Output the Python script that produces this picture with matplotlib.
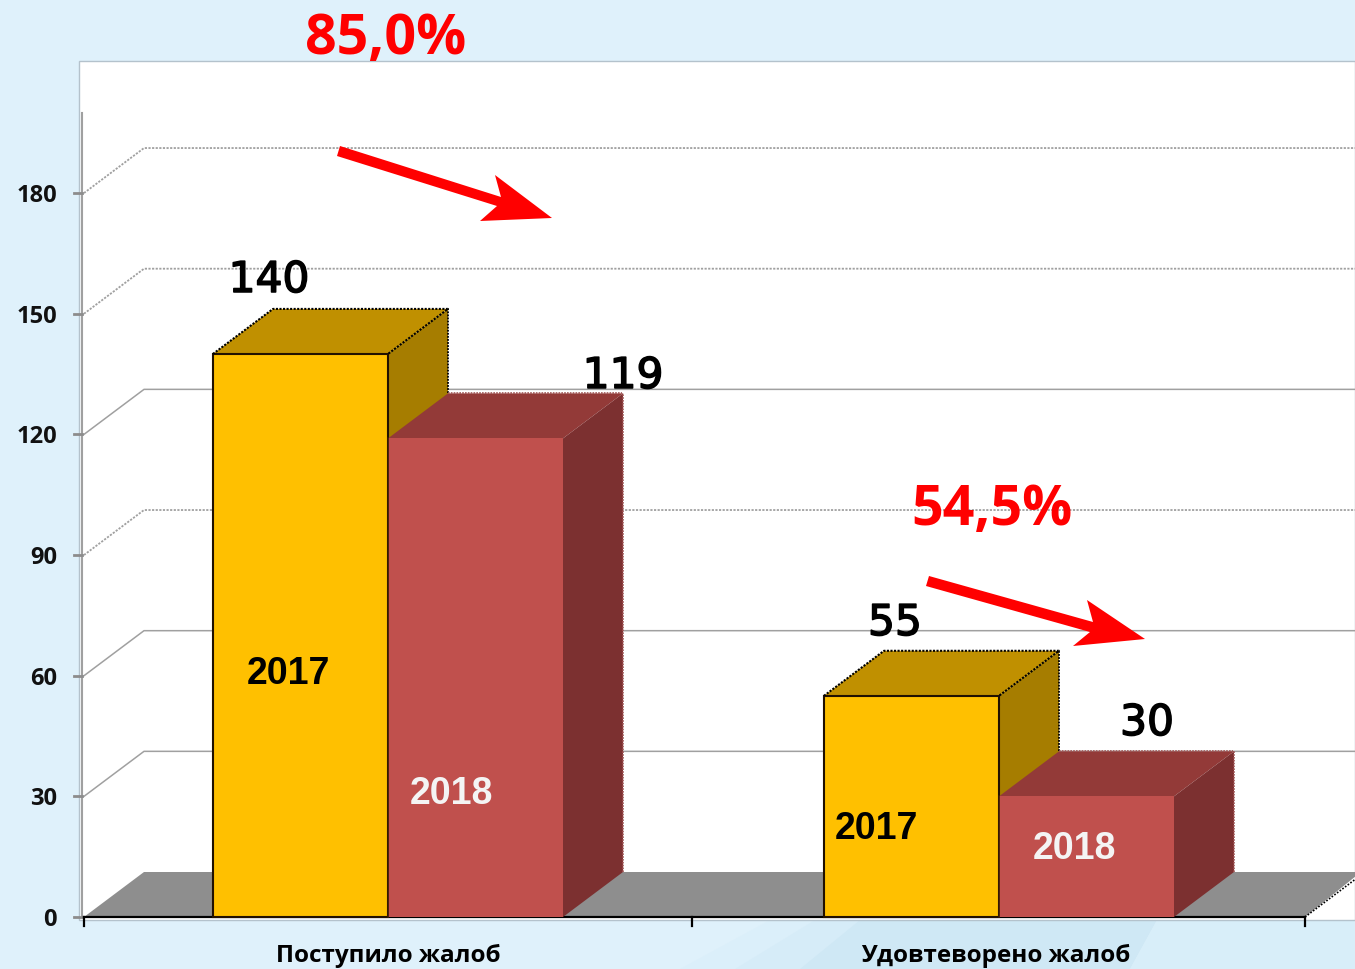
import matplotlib
matplotlib.use("Agg")
import matplotlib.pyplot as plt
import matplotlib.patheffects as pe
from matplotlib.patches import Polygon, Rectangle

categories = ["Поступило жалоб", "Удовтеворено жалоб"]
years = ["2017", "2018"]
values_2017 = [140, 55]
values_2018 = [119, 30]
y_ticks = [0, 30, 60, 90, 120, 150, 180]
changes = ["85,0%", "54,5%"]

W, H = 1355, 969
Y0 = 917        # pixel row of value 0
SCALE = 4.022   # pixels per unit
DX, DY = 60, 45 / SCALE   # depth of the fake 3d
BAR_W = 175
CENTERS = [388, 999]

YELLOW = ("#FFC000", "#C09000", "#A67D00")
RED = ("#C0504D", "#933A38", "#7C3030")
DOTS = (0, (1, 0.7))

fig = plt.figure(figsize=(W / 100, H / 100), dpi=100, facecolor="#DFF1FB")

# background layer in pixel coordinates
bg = fig.add_axes([0, 0, 1, 1])
bg.set_xlim(0, W)
bg.set_ylim(H, 0)
bg.axis("off")
bg.add_patch(Polygon([(680, 969), (770, 920), (1157, 920), (1130, 969)], color="#DBEFFA", lw=0))
bg.add_patch(Polygon([(735, 969), (815, 920), (1157, 920), (1130, 969)], color="#D6ECF8", lw=0))
bg.add_patch(Polygon([(800, 969), (860, 920), (1157, 920), (1130, 969)], color="#CFE8F5", lw=0))
bg.add_patch(Polygon([(1130, 969), (1157, 920), (1355, 920), (1355, 969)], color="#D8EEF9", lw=0))
bg.add_patch(Rectangle((79, 61), W - 79, 859, fc="white", ec="#B4C2CC", lw=1))

# chart layer, y in data values
ax = fig.add_axes([0, 0, 1, 1], facecolor="none")
ax.set_xlim(0, W)
ax.set_ylim((Y0 - H) / SCALE, Y0 / SCALE)
ax.axis("off")

# walls and floor
for t in y_ticks[1:]:
    dotted = t in (90, 150, 180)
    ax.plot([84, 84 + DX, W], [t, t + DY, t + DY], color="#A0A0A0", lw=1.3 if dotted else 1.1,
            ls=(0, (1.2, 0.8)) if dotted else "-", zorder=1)
ax.add_patch(Polygon([(84, 0), (84 + DX, DY), (W, DY), (W, 10), (1305, 0)], fc="#8E8E8E", ec="none", zorder=2))
ax.plot([82, 82], [0, 200], color="#A0A0A0", lw=1.5, zorder=3)
for t in y_ticks:
    ax.plot([74, 82], [t, t], color="#8C8C8C", lw=2, zorder=3)
    ax.text(57, t - 0.75, str(t), ha="right", va="center", fontsize=17, fontweight="bold",
            family="Open Sans", color="#111111", zorder=6)
ax.plot([84, 1305], [0, 0], color="black", lw=1.6, zorder=3)
for x in [84, 692, 1305]:
    ax.plot([x, x], [0, -2.2], color="black", lw=1.6, zorder=3)
ax.plot([1305, 1305 + DX], [0, DY], color="black", lw=1.2, ls=(0, (1, 1)), zorder=3)


def draw_bar(left, val, cols, edge, z):
    ax.bar(left, val, width=BAR_W, align="edge", color=cols[0], edgecolor=edge, lw=1.5, zorder=z + 1)
    r = left + BAR_W
    ax.add_patch(Polygon([(left, val), (r, val), (r + DX, val + DY), (left + DX, val + DY)],
                         fc=cols[1], ec="none", zorder=z))
    ax.add_patch(Polygon([(r, 0), (r, val), (r + DX, val + DY), (r + DX, DY)],
                         fc=cols[2], ec="none", zorder=z))


for c, a, b in zip(CENTERS, values_2017, values_2018):
    draw_bar(c - BAR_W, a, YELLOW, "#221100", 4)
    # dotted outline of the box, looks like that in the original screenshot
    xs = [c - BAR_W, c - BAR_W + DX, c + DX, c]
    ys = [a, a + DY, a + DY, a]
    ax.plot(xs, ys, color="black", lw=1.5, ls=DOTS, zorder=5)
    ax.plot([c + DX, c + DX], [b + DY, a + DY], color="black", lw=1.3, ls=DOTS, zorder=5)
    ax.plot([c - BAR_W, c - BAR_W], [DY, a], color="black", lw=2, ls=DOTS, zorder=3)
    draw_bar(c, b, RED, "none", 6)
    ax.plot([c + DX, c + 2 * DX - 1 + BAR_W - DX], [b + DY, b + DY], color="#A05555", lw=1.2, ls=DOTS, zorder=7)
    ax.plot([c + BAR_W + DX, c + BAR_W + DX], [DY, b + DY], color="#A05555", lw=1.2, ls=DOTS, zorder=7)
    ax.plot([c, c], [0, b], color="#3A1A00", lw=1.2, zorder=8)

# text in pixel coordinates
txt = fig.add_axes([0, 0, 1, 1], facecolor="none")
txt.set_xlim(0, W)
txt.set_ylim(H, 0)
txt.axis("off")

heavy = [pe.withStroke(linewidth=1.1, foreground="black")]
for x, y, v in [(269, 280, values_2017[0]), (623, 376, values_2018[0]),
                (895, 623, values_2017[1]), (1147, 723, values_2018[1])]:
    txt.text(x, y, str(v), ha="center", va="center", fontsize=30.5, family="DejaVu Sans", path_effects=heavy)

txt.text(288, 674, years[0], ha="center", va="center", fontsize=27, fontweight="bold", family="Liberation Sans")
txt.text(451, 794, years[1], ha="center", va="center", fontsize=27, fontweight="bold", family="Liberation Sans", color="#F4F4F4")
txt.text(876, 829, years[0], ha="center", va="center", fontsize=27, fontweight="bold", family="Liberation Sans")
txt.text(1074, 849, years[1], ha="center", va="center", fontsize=27, fontweight="bold", family="Liberation Sans", color="#F4F4F4")

txt.text(388, 956, categories[0], ha="center", va="center", fontsize=17.5, fontweight="bold", family="Open Sans")
txt.text(996, 956, categories[1], ha="center", va="center", fontsize=17.5, fontweight="bold", family="Open Sans")

txt.text(386, 39, changes[0], ha="center", va="center", fontsize=40, fontweight="bold", family="Open Sans", color="#FF0000")
txt.text(992, 511, changes[1], ha="center", va="center", fontsize=40, fontweight="bold", family="Open Sans", color="#FF0000")

# red arrows
txt.add_patch(Polygon([(340, 146), (501, 197), (495, 175), (552, 218), (480, 221), (497, 206), (337, 156)], color="#FF0000", lw=0))
txt.add_patch(Polygon([(929, 576), (1093, 622), (1087, 600), (1145, 639), (1073, 646), (1090, 632), (926, 586)], color="#FF0000", lw=0))

fig.savefig("out.png", dpi=100, facecolor=fig.get_facecolor())
